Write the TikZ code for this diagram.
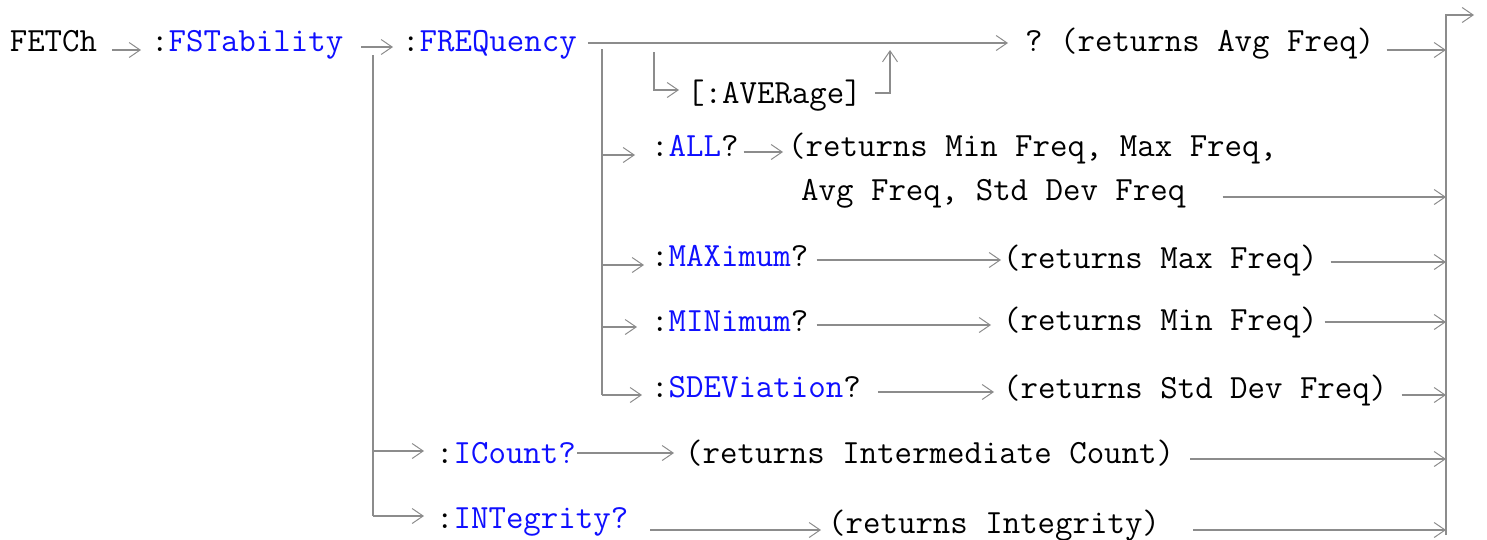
\documentclass[tikz,border=0pt]{standalone}
\usepackage{fontspec}
\setmonofont{Latin Modern Mono}
\usepackage{xcolor}
\usepackage{tikz}
\usetikzlibrary{arrows.meta, calc}
\definecolor{scpiblue}{HTML}{0F0FFF}
\definecolor{scpigray}{HTML}{8C8C8C}

\begin{document}
\begin{tikzpicture}[x=1pt, y=-1pt,
    kw/.style={anchor=west, inner sep=0pt, font=\ttfamily\fontsize{33.9}{40}\selectfont, text height=23pt, text depth=6pt},
    arr/.style={-{Straight Barb[length=11pt, width=15pt, line width=1pt]}, line width=1.6pt, scpigray},
    bus/.style={line width=1.6pt, scpigray}
  ]
    \useasboundingbox (0,0) rectangle (1487,539);
    \node[kw] (fetch) at (9.6,43) {FETCh};
    \node[kw] (fstab) at (151,43) {:\textcolor{scpiblue}{FSTability}};
    \node[kw] (freq) at (402,43) {:\textcolor{scpiblue}{FREQuency}};
    \node[kw] (avgq) at (1025,43) {? (returns Avg Freq)};
    \node[kw] (aver) at (687,95) {[:AVERage]};
    \node[kw] (all) at (651,148) {:\textcolor{scpiblue}{ALL}?};
    \node[kw] (allr1) at (788,148) {(returns Min Freq, Max Freq,};
    \node[kw] (allr2) at (801,192) {Avg Freq, Std Dev Freq};
    \node[kw] (max) at (651,258) {:\textcolor{scpiblue}{MAXimum}?};
    \node[kw] (maxr) at (1003,260) {(returns Max Freq)};
    \node[kw] (min) at (651,323) {:\textcolor{scpiblue}{MINimum}?};
    \node[kw] (minr) at (1003,322) {(returns Min Freq)};
    \node[kw] (sdev) at (651,389) {:\textcolor{scpiblue}{SDEViation}?};
    \node[kw] (sdevr) at (1003,390) {(returns Std Dev Freq)};
    \node[kw] (icount) at (436,455) {:\textcolor{scpiblue}{ICount?}};
    \node[kw] (icountr) at (685,455) {(returns Intermediate Count)};
    \node[kw] (integ) at (436,520) {:\textcolor{scpiblue}{INTegrity?}};
    \node[kw] (integr) at (828,525) {(returns Integrity)};
    \coordinate (sbus) at (373,55);
    \coordinate (qbus) at (602,49);
    \coordinate (abus) at (654,52);
    \coordinate (avup) at (890,50);
    \coordinate (rbot) at (1446,535);
    \coordinate (rbus) at (1446,15);
    \coordinate (rout) at (1474,15);
    \draw[arr] ($(fetch.east)+(15,7)$) -- ($(fstab.west)+(-10,7)$);
    \draw[arr] ($(fstab.east)+(18,4)$) -- ($(freq.west)+(-9,4)$);
    \draw[arr] ($(freq.east)+(11,0)$) -- ($(avgq.west)+(-17,0)$);
    \draw[arr] ($(avgq.east)+(12,7)$) coordinate (a1) -- (a1 -| rbus);
    \draw[arr] (rbot) -- (rbus) -- (rout);
    \draw[arr] (abus) |- ($(aver.west)+(-8,-5)$);
    \draw[arr] ($(aver.east)+(13,-2)$) -| (avup);
    \coordinate (q1) at ($(all.west)+(-16,7)$);
    \coordinate (q2) at ($(max.west)+(-7,7)$);
    \coordinate (q3) at ($(min.west)+(-14,4)$);
    \coordinate (q4) at ($(sdev.west)+(-9,6)$);
    \draw[bus] (qbus) -- (qbus |- q4);
    \draw[arr] (qbus |- q1) -- (q1);
    \draw[arr] (qbus |- q2) -- (q2);
    \draw[arr] (qbus |- q3) -- (q3);
    \draw[arr] (qbus |- q4) -- (q4);
    \coordinate (s1) at ($(icount.west)+(-12,-4)$);
    \coordinate (s2) at ($(integ.west)+(-12,-4)$);
    \draw[bus] (sbus) -- (sbus |- s2);
    \draw[arr] (sbus |- s1) -- (s1);
    \draw[arr] (sbus |- s2) -- (s2);
    \draw[arr] ($(all.east)+(5,4)$) -- ($(allr1.west)+(-5,4)$);
    \draw[arr] ($(allr2.east)+(37,5)$) coordinate (a2) -- (a2 -| rbus);
    \draw[arr] ($(max.east)+(8,2)$) -- ($(maxr.west)+(-2,0)$);
    \draw[arr] ($(maxr.east)+(13,2)$) coordinate (m2) -- (m2 -| rbus);
    \draw[arr] ($(min.east)+(8,2)$) -- ($(minr.west)+(-12,3)$);
    \draw[arr] ($(minr.east)+(7,0)$) coordinate (n2) -- (n2 -| rbus);
    \draw[arr] ($(sdev.east)+(17,3)$) -- ($(sdevr.west)+(-9,2)$);
    \draw[arr] ($(sdevr.east)+(14,5)$) coordinate (d2) -- (d2 -| rbus);
    \draw[arr] ($(icount.east)+(1,-2)$) -- ($(icountr.west)+(-11,-2)$);
    \draw[arr] ($(icountr.east)+(16,4)$) coordinate (c2) -- (c2 -| rbus);
    \draw[arr] ($(integ.east)+(22,10)$) -- ($(integr.west)+(-7,5)$);
    \draw[arr] ($(integr.east)+(33,5)$) coordinate (g2) -- (g2 -| rbus);
  \end{tikzpicture}
\end{document}
